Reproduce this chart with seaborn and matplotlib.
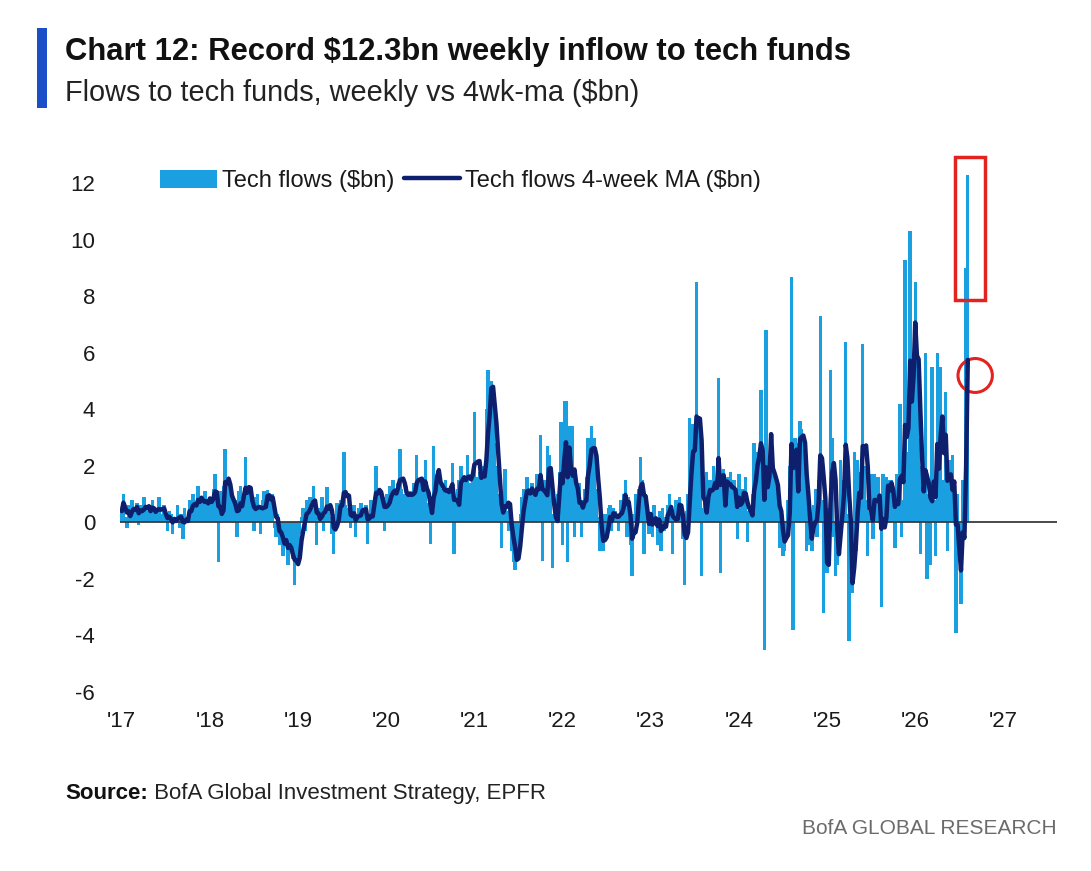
import numpy as np
import pandas as pd
import seaborn as sns
import matplotlib.pyplot as plt
from matplotlib.patches import Rectangle, Ellipse, Patch
from matplotlib.lines import Line2D

# weekly tech fund flows ($bn), one list per year
flows_2017 = [0.4, 1.0, 0.2, -0.2, 0.6, 0.3, 0.8, 0.2, 0.5, 0.7, -0.1, 0.6, 0.4,
              0.9, 0.3, 0.5, 0.6, 0.2, 0.8, 0.4, 0.1, 0.5, 0.9, 0.3, 0.2, 0.6,
              0.1, -0.3, 0.4, 0.3, -0.4, 0.2, 0.1, 0.6, -0.2, 0.3, -0.6, 0.5, 0.2,
              0.1, 0.8, 0.5, 1.0, 0.3, 0.6, 1.3, 0.7, 0.9, 0.2, 1.1, 0.8, 0.6]
flows_2018 = [0.9, 0.6, 1.2, 1.7, 0.8, -1.4, 1.1, 0.7, 1.3, 2.6, 0.9, 1.4, 0.5,
              1.0, 0.3, 0.8, -0.5, 1.1, 1.3, 0.4, 0.9, 2.3, 0.6, 1.2, 0.8, 0.5,
              -0.3, 0.9, 1.0, 0.6, -0.4, 0.8, 1.1, 0.7, 1.15, 0.9, 0.5, 1.0, -0.2,
              -0.5, 0.3, -0.8, -0.4, -1.2, -0.6, -0.3, -1.5, -0.8, -1.0, -1.3, -2.2, -0.9]
flows_2019 = [-1.5, -0.4, 0.2, 0.5, -0.3, 0.8, 0.4, 0.9, 0.3, 1.3, 0.6, -0.8, 0.2,
              0.5, 0.9, -0.3, 0.4, 1.25, 0.6, 0.2, -0.4, -1.1, 0.3, 0.7, 0.5, 0.8,
              0.4, 2.5, 0.6, 0.2, 0.5, -0.2, 0.4, 0.6, -0.5, 0.3, 0.5, 0.7, 0.2,
              0.4, 0.6, -0.75, 0.3, 0.8, 0.5, 0.9, 2.0, 0.7, 1.0, 0.6, 0.9, -0.3]
flows_2020 = [1.0, 0.8, 1.3, 0.6, 1.5, 1.1, 0.9, 1.4, 2.6, 1.2, 1.0, 0.7, 1.3,
              0.9, 1.1, 0.6, 1.4, 1.2, 2.4, 1.0, 1.5, 1.3, 0.8, 2.2, 0.5, 0.7,
              -0.75, 0.9, 2.7, 1.6, 1.3, 1.8, 1.0, 1.2, 0.8, 1.5, 1.1, 0.9, 1.3,
              2.1, -1.1, 0.9, 1.2, 1.5, 2.0, 1.3, 1.6, 1.1, 2.4, 1.4, 1.2, 1.7]
flows_2021 = [3.9, 1.6, 1.4, 1.8, 1.5, 2.0, 1.2, 4.0, 5.4, 4.6, 5.0, 4.2, 2.8,
              2.0, 1.0, 0.5, -0.9, 0.8, 1.9, 0.4, -0.3, 0.6, -1.0, -1.4, -1.7, -1.2,
              -0.8, 0.3, 0.9, 1.2, 0.7, 1.6, 1.0, 0.8, 1.4, 1.1, 0.6, 1.7, 1.3,
              3.1, -1.35, 1.5, 1.0, 2.7, 2.4, 1.6, -1.6, 0.3, 0.5, 1.0, 1.8, 3.55]
flows_2022 = [-0.8, 4.3, 4.3, -1.4, 3.4, 1.2, 3.4, -0.5, 1.5, 0.4, 1.4, -0.5, 0.8,
              1.2, 1.6, 3.0, 2.3, 3.4, 1.8, 3.0, 1.2, 0.2, -1.0, -0.8, -1.0, 0.3,
              -0.6, 0.5, 0.6, -0.3, 0.5, 0.4, 0.2, -0.3, 0.8, 0.6, 1.0, 1.5, -0.5,
              0.9, -0.8, -1.9, 0.3, 1.0, 0.5, 1.2, 2.3, 1.5, -1.1, 1.0, 0.3, -0.4]
flows_2023 = [0.3, -0.5, 0.6, 0.2, -0.8, 0.4, -1.0, 0.5, -0.3, 0.2, 0.6, 1.0, 0.4,
              -1.1, 0.3, 0.8, 0.5, 0.9, 0.2, -0.6, -2.2, 0.4, 1.0, 3.7, 1.8, 3.5,
              1.2, 8.5, 1.5, 3.5, -1.9, 0.5, 1.0, 1.8, 0.3, 1.5, 0.9, 2.0, 1.2,
              0.8, 5.1, -1.8, 1.5, 1.9, 0.8, 1.6, 1.2, 1.8, 0.4, 1.5, 0.9, -0.6]
flows_2024 = [1.7, 0.5, 1.2, 0.8, 1.6, -0.7, 0.4, 0.3, 1.0, 2.8, 1.8, 2.5, 2.2,
              4.7, 0.8, -4.5, 6.8, 1.9, 2.3, 1.5, 2.0, 1.2, 1.5, 0.6, -0.9, 0.4,
              -1.2, -1.0, -0.4, 0.8, 2.0, 8.7, -3.8, 3.0, 2.4, 2.8, 3.6, 3.3, 2.6,
              1.8, -1.0, 0.5, -0.8, -1.0, 0.6, 1.2, -0.5, 1.5, 7.3, 0.8, -3.2, -1.5]
flows_2025 = [-1.8, 0.5, 5.4, 3.0, -0.5, -1.9, -1.5, -0.6, 2.2, 0.9, 1.5, 6.4, 0.3,
              -4.2, -2.2, -2.5, 2.5, -1.0, 2.2, 0.5, 1.8, 6.3, 2.0, 0.8, -1.2, 0.4,
              1.7, -0.6, 1.7, 0.3, 1.6, 0.2, -3.0, 1.7, 0.4, 1.6, 1.5, 1.0, 1.5,
              0.6, -0.9, 1.7, 1.2, 4.2, -0.5, 0.8, 9.3, 2.5, 0.8, 10.3, 3.5, 6.0]
flows_2026 = [8.5, 5.6, 3.0, -1.1, 2.0, 0.5, 6.0, -2.0, 1.0, -1.5, 5.5, 0.8, -1.2,
              6.0, 2.0, 5.5, 1.5, 0.8, 4.6, -1.0, 2.2, 1.0, 2.4, 0.2, -3.9, 1.0,
              -1.0, -2.9, 1.5, 0.2, 9.0, 12.3]

years = list(range(2017, 2028))
year_labels = ["'17", "'18", "'19", "'20", "'21", "'22", "'23", "'24", "'25", "'26", "'27"]
y_ticks = [12, 10, 8, 6, 4, 2, 0, -2, -4, -6]

flows = (flows_2017 + flows_2018 + flows_2019 + flows_2020 + flows_2021 +
         flows_2022 + flows_2023 + flows_2024 + flows_2025 + flows_2026)

df = pd.DataFrame({'flows': flows})
df['year'] = 2017 + np.arange(len(df)) / 52
df['ma4'] = df['flows'].rolling(4, min_periods=1).mean()

light_blue = '#1a9fe0'
navy = '#0e1f6d'
red = '#e2231f'

sns.set_style('white')
plt.rcParams['font.family'] = ['Liberation Sans', 'DejaVu Sans']
plt.rcParams['axes.unicode_minus'] = False

fig = plt.figure(figsize=(10.91, 8.71), dpi=100)
ax = fig.add_axes([0.110, 0.2055, 0.859, 0.6165])

# bars a bit wider than a week so the spikes read like the original
ax.bar(df['year'], df['flows'], width=2/52, color=light_blue, linewidth=0)
sns.lineplot(data=df, x='year', y='ma4', ax=ax, color=navy, linewidth=3.2)
ax.axhline(0, color='#3a3a3a', lw=1.3, zorder=1)

ax.set_xlim(2016.98, 2027.61)
ax.set_ylim(-6, 13)
ax.set_xticks(years)
ax.set_xticklabels(year_labels)
ax.set_yticks(y_ticks)
ax.set_xlabel('')
ax.set_ylabel('')
ax.tick_params(axis='both', length=0, labelsize=16, colors='#1a1a1a')
ax.tick_params(axis='x', pad=14)
ax.tick_params(axis='y', pad=18)
for s in ax.spines.values():
    s.set_visible(False)

handles = [Patch(facecolor=light_blue, edgecolor='none'),
           Line2D([0], [0], color=navy, lw=3.2)]
ax.legend(handles, ['Tech flows (\\$bn)', 'Tech flows 4-week MA (\\$bn)'],
          loc='upper left', bbox_to_anchor=(0.033, 0.99), ncol=2, frameon=False,
          fontsize=17, handlelength=2.4, handleheight=0.8, handletextpad=0.2,
          columnspacing=0.4, borderaxespad=0, labelcolor='#1a1a1a')

# highlight on the record week
ax.add_patch(Rectangle((2026.45, 7.86), 0.34, 5.06, fill=False, edgecolor=red, lw=2.5, clip_on=False))
ax.add_patch(Ellipse((2026.68, 5.2), 0.39, 1.2, fill=False, edgecolor=red, lw=2.2, clip_on=False))

# header
fig.add_artist(Rectangle((0.034, 1 - 108/871), 0.009, 80/871, transform=fig.transFigure,
                         color='#1a4fc8', lw=0))
fig.text(0.0596, 1 - 60/871, 'Chart 12: Record \\$12.3bn weekly inflow to tech funds',
         fontsize=22.3, fontweight='bold', va='baseline', color='#111111')
fig.text(0.0596, 1 - 101/871, 'Flows to tech funds, weekly vs 4wk-ma (\\$bn)',
         fontsize=20.8, va='baseline', color='#222222')

# footer
src = fig.text(0.0596, 1 - 804/871, 'Source:', fontsize=16, fontweight='bold',
               va='bottom', color='#111111')
ax.annotate(' BofA Global Investment Strategy, EPFR', xy=(1, 0), xycoords=src,
            va='bottom', ha='left', fontsize=16, color='#222222', annotation_clip=False)
fig.text(1057/1091, 1 - 838/871, 'BofA GLOBAL RESEARCH', fontsize=15, ha='right',
         va='bottom', color='#6b6b6b')

plt.savefig('out.png', dpi=100)
